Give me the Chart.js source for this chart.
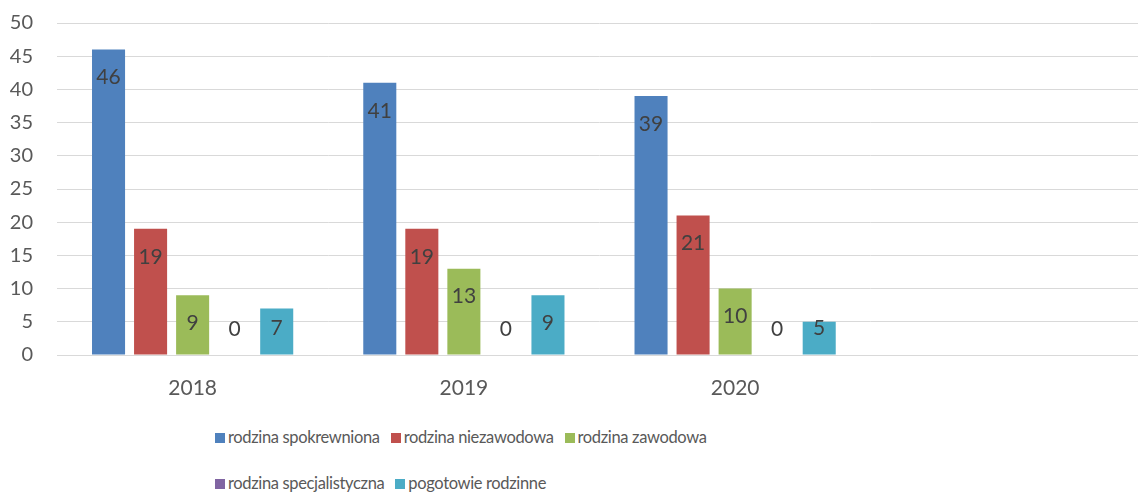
<!DOCTYPE html>
<html>
<head>
<meta charset="utf-8">
<script src="https://cdn.jsdelivr.net/npm/chart.js@4/dist/chart.umd.min.js"></script>
<style>
  html, body { margin: 0; padding: 0; background: #fff; }
  #wrap { position: relative; width: 1138px; height: 494px; overflow: hidden; }
  #box { position: absolute; left: 0; top: -13px; width: 1142px; height: 413px; }
  .legend { position: absolute; left: 215px; font-family: Lato, "Open Sans", sans-serif; font-size: 16.5px; letter-spacing: -0.35px; color: #595959; white-space: nowrap; }
  .legend span.item { margin-right: 11px; }
  .legend i { display: inline-block; width: 10px; height: 10px; margin-right: 3px; }
</style>
</head>
<body>
<div id="wrap">
  <div id="box"><canvas id="wykres"></canvas></div>
  <div class="legend" id="leg1" style="top:427px"></div>
  <div class="legend" id="leg2" style="top:473px"></div>
</div>
<script>
// dane z wykresu
const lata = ["2018", "2019", "2020", ""];
const spokrewniona = [46, 41, 39, null];
const niezawodowa = [19, 19, 21, null];
const zawodowa = [9, 13, 10, null];
const specjalistyczna = [0, 0, 0, null];
const pogotowie = [7, 9, 5, null];
const nazwy = ["rodzina spokrewniona", "rodzina niezawodowa", "rodzina zawodowa", "rodzina specjalistyczna", "pogotowie rodzinne"];
const kolory = ["#4F81BD", "#C0504D", "#9BBB59", "#8064A2", "#4BACC6"];
const osY = [0, 5, 10, 15, 20, 25, 30, 35, 40, 45, 50];

const serie = [spokrewniona, niezawodowa, zawodowa, specjalistyczna, pogotowie];

// etykiety wartości wewnątrz słupków
const etykiety = {
  id: "etykiety",
  afterDatasetsDraw(chart) {
    const ctx = chart.ctx;
    ctx.save();
    ctx.font = "21px Lato, 'Open Sans', sans-serif";
    ctx.fillStyle = "#404040";
    ctx.textAlign = "center";
    ctx.textBaseline = "middle";
    chart.data.datasets.forEach((ds, i) => {
      chart.getDatasetMeta(i).data.forEach((bar, j) => {
        const v = ds.data[j];
        if (v === null || v === undefined) return;
        const y = Math.min(bar.y + 28, bar.base - 26);
        ctx.fillText(String(v), bar.x, y);
      });
    });
    ctx.restore();
  }
};

const canvas = document.getElementById("wykres");
canvas.width = 1142;
canvas.height = 413;

new Chart(canvas, {
  type: "bar",
  data: {
    labels: lata,
    datasets: serie.map((d, i) => ({
      label: nazwy[i],
      data: d,
      backgroundColor: kolory[i],
      barPercentage: 0.786,
      categoryPercentage: 0.775
    }))
  },
  options: {
    responsive: false,
    animation: false,
    layout: { padding: { top: 10, right: 0, left: 0, bottom: 0 } },
    plugins: {
      legend: { display: false },
      tooltip: { enabled: false }
    },
    scales: {
      x: {
        grid: { display: false, drawTicks: false },
        border: { display: true, color: "#d9d9d9" },
        ticks: { color: "#595959", padding: 21, font: { family: "Lato, 'Open Sans', sans-serif", size: 21 } },
        afterFit(s) { s.height = 45; }
      },
      y: {
        min: 0,
        max: 50,
        afterBuildTicks(s) { s.ticks = osY.map(v => ({ value: v })); },
        grid: { color: "#d9d9d9", drawTicks: false },
        border: { display: false },
        ticks: { color: "#595959", padding: 24, font: { family: "Lato, 'Open Sans', sans-serif", size: 20 } },
        afterFit(s) { s.width = 57; }
      }
    }
  },
  plugins: [etykiety]
});

// legenda w HTML (dwie linie jak w oryginale)
function wstaw(el, idx) {
  el.innerHTML = idx.map(i =>
    `<span class="item"><i style="background:${kolory[i]}"></i>${nazwy[i]}</span>`
  ).join("");
}
wstaw(document.getElementById("leg1"), [0, 1, 2]);
wstaw(document.getElementById("leg2"), [3, 4]);
</script>
</body>
</html>
